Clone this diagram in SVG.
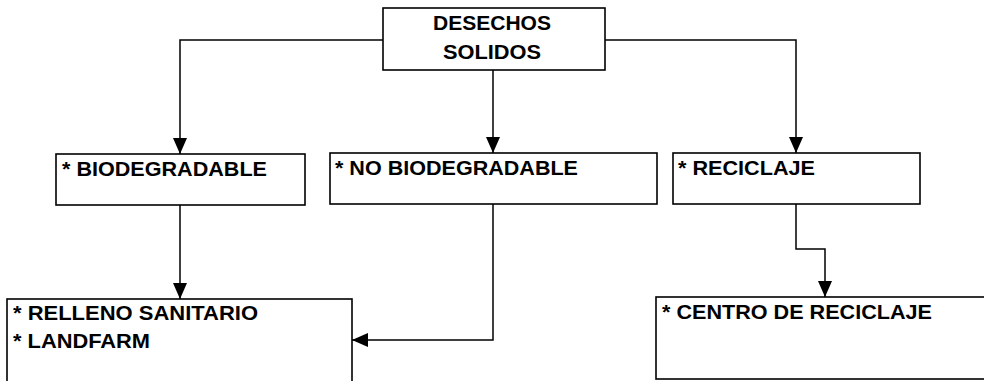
<svg xmlns="http://www.w3.org/2000/svg" width="984" height="381" viewBox="0 0 984 381">
  <style>
    .box { fill: #ffffff; stroke: #000000; stroke-width: 1.6; }
    .lbl { font-family: "Liberation Sans", Arial, sans-serif; font-weight: bold; font-size: 21px; fill: #000000; }
    .mid { text-anchor: middle; }
    .wire { fill: none; stroke: #000000; stroke-width: 1.5; marker-end: url(#head); }
  </style>
  <defs>
    <marker id="head" viewBox="0 0 16 14" refX="16" refY="7" markerWidth="16" markerHeight="14" markerUnits="userSpaceOnUse" orient="auto">
      <path d="M0,0 L16,7 L0,14 Z" fill="#000000"/>
    </marker>
  </defs>
  <rect width="984" height="381" fill="#ffffff"/>

  <g id="connectors">
    <path class="wire" d="M383,40 H180 V154"/>
    <path class="wire" d="M605,40 H796 V153"/>
    <path class="wire" d="M493,70 V153"/>
    <path class="wire" d="M180,205 V299"/>
    <path class="wire" d="M493,204 V340 H352"/>
    <path class="wire" d="M796,204 V249 H825 V297"/>
  </g>

  <g id="desechos-solidos">
    <rect class="box" x="383" y="8" width="222" height="62"/>
    <text class="lbl mid" x="492" y="30" textLength="118" lengthAdjust="spacingAndGlyphs">DESECHOS</text>
    <text class="lbl mid" x="492" y="59" textLength="98" lengthAdjust="spacingAndGlyphs">SOLIDOS</text>
  </g>

  <g id="biodegradable">
    <rect class="box" x="56" y="154" width="249" height="51"/>
    <text class="lbl" x="62" y="176" textLength="205" lengthAdjust="spacingAndGlyphs">* BIODEGRADABLE</text>
  </g>

  <g id="no-biodegradable">
    <rect class="box" x="330" y="153" width="327" height="51"/>
    <text class="lbl" x="335" y="175" textLength="243" lengthAdjust="spacingAndGlyphs">* NO BIODEGRADABLE</text>
  </g>

  <g id="reciclaje">
    <rect class="box" x="673" y="153" width="247" height="51"/>
    <text class="lbl" x="678" y="175" textLength="137" lengthAdjust="spacingAndGlyphs">* RECICLAJE</text>
  </g>

  <g id="relleno-landfarm">
    <rect class="box" x="7" y="299" width="345" height="100"/>
    <text class="lbl" x="13" y="320" textLength="245" lengthAdjust="spacingAndGlyphs">* RELLENO SANITARIO</text>
    <text class="lbl" x="13" y="348" textLength="137" lengthAdjust="spacingAndGlyphs">* LANDFARM</text>
  </g>

  <g id="centro-reciclaje">
    <rect class="box" x="656" y="297" width="400" height="82"/>
    <text class="lbl" x="662" y="319" textLength="270" lengthAdjust="spacingAndGlyphs">* CENTRO DE RECICLAJE</text>
  </g>
</svg>
